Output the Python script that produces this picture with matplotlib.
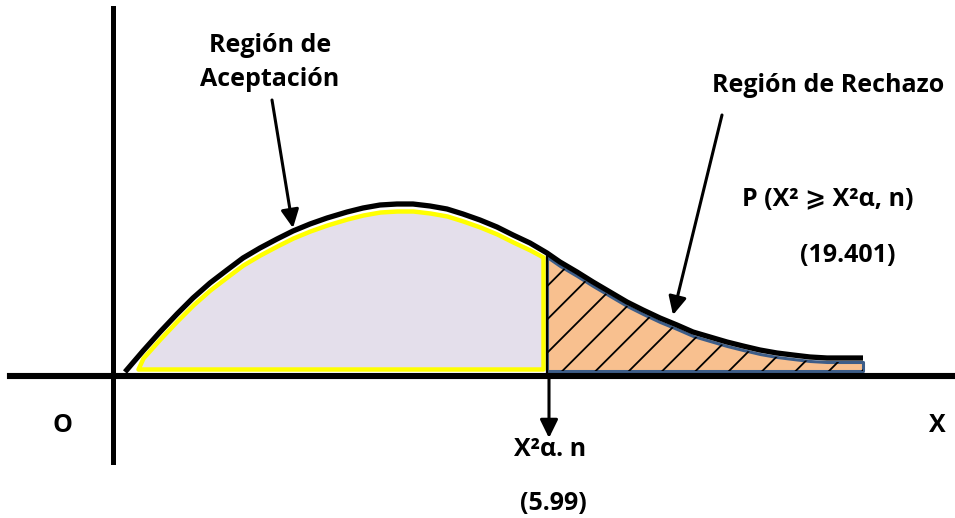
#!/usr/bin/env python
# -*- coding: utf-8 -*-

"""
chi-square acceptance / rejection region sketch.
"""

import numpy
import matplotlib
matplotlib.use('Agg')
import matplotlib.pyplot as plt

# curve, origin at the axes crossing (pixels, y up)
curve_x = [12, 30, 47, 64, 80, 97, 114, 130, 147, 164, 180, 197, 214, 234, 250, 267, 284,
           300, 317, 334, 350, 367, 384, 400, 417, 434, 447, 464, 480, 497, 514, 530, 547,
           564, 580, 597, 614, 630, 647, 664, 680, 697, 714, 750]
curve_y = [4, 25, 44, 62, 78, 93, 106, 118, 128, 137, 145, 152, 158, 164, 168, 171, 172,
           172, 170, 167, 162, 156, 149, 141, 133, 123, 114, 104, 94, 84, 74, 66, 58,
           51, 44, 39, 34, 30, 26, 23, 21, 19, 18, 18]

cut_x = 434          # X^2 alpha, n
label_accept = ['Región de', 'Aceptación']
label_reject = 'Región de Rechazo'
label_prob = 'P (X\u00b2 \u2a7e X\u00b2\u03b1, n)'
label_prob_value = '(19.401)'
label_crit = 'X\u00b2\u03b1. n'
label_crit_value = '(5.99)'
label_origin = 'O'
label_axis = 'X'

FONT = ['Open Sans', 'DejaVu Sans']


def draw_regions(ax, x, y):
    """
    Fill the acceptance region (lavender, yellow edge) and the rejection
    region (orange, hatched) under the curve.
    """
    left = (x >= 30) & (x <= cut_x)
    ax_ = numpy.concatenate([[25], x[left][:-1], [cut_x - 4]])
    ay_ = numpy.concatenate([[7], y[left][:-1] - 7, [y[left][-1] - 4]])
    ax.fill_between(ax_, 7, ay_, facecolor='#e4dfeb', edgecolor='#ffff00',
                    linewidth=3.2, zorder=2)

    right = x >= cut_x
    ax.fill_between(x[right], 5, y[right] - 4, facecolor='#f8c08f', edgecolor='#3d5d88',
                    linewidth=2.2, zorder=2)
    ax.fill_between(x[right], 5, y[right] - 4, facecolor='none', edgecolor='black',
                    hatch='/', linewidth=0, zorder=3)

    # cut line
    ax.plot([cut_x, cut_x], [0, y[right][0]], color='black', lw=1.6, zorder=4)


def draw_arrow(ax, start, end):
    ax.annotate('', xy=end, xytext=start,
                arrowprops=dict(arrowstyle='-|>,head_length=0.55,head_width=0.27',
                                color='black', lw=2.2, shrinkA=0, shrinkB=0,
                                mutation_scale=20), zorder=6)


def main():
    plt.rcParams['font.family'] = FONT
    plt.rcParams['hatch.linewidth'] = 1.3

    fig = plt.figure(figsize=(9.55, 5.18), dpi=100)
    ax = fig.add_axes([0, 0, 1, 1])
    ax.set_xlim(-113, 842)
    ax.set_ylim(-142, 376)
    ax.axis('off')

    x = numpy.array(curve_x, dtype=float)
    y = numpy.array(curve_y, dtype=float)

    draw_regions(ax, x, y)

    # curve
    ax.plot(x, y, color='black', lw=3.8, solid_capstyle='butt', solid_joinstyle='round', zorder=5)

    # axes
    ax.plot([-103, 842], [0, 0], color='black', lw=4.4, zorder=5)
    ax.plot([0, 0], [-86, 368], color='black', lw=3.6, zorder=5)

    # arrows
    draw_arrow(ax, (159, 276), (180, 148))
    draw_arrow(ax, (609, 261), (560, 61))
    draw_arrow(ax, (436, 0), (436, -62))

    # labels
    txt = dict(fontsize=18, fontweight='bold', ha='center', va='center', color='black')
    ax.text(157, 331, label_accept[0], **txt)
    ax.text(157, 296, label_accept[1], **txt)
    ax.text(715, 291, label_reject, **txt)
    ax.text(715, 176, label_prob, **txt)
    ax.text(735, 121, label_prob_value, **txt)
    ax.text(437, -74, label_crit, **txt)
    ax.text(440, -127, label_crit_value, **txt)
    ax.text(-51, -49, label_origin, **txt)
    ax.text(824, -49, label_axis, **txt)

    fig.savefig('out.png', dpi=100)


if __name__ == '__main__':
    main()
